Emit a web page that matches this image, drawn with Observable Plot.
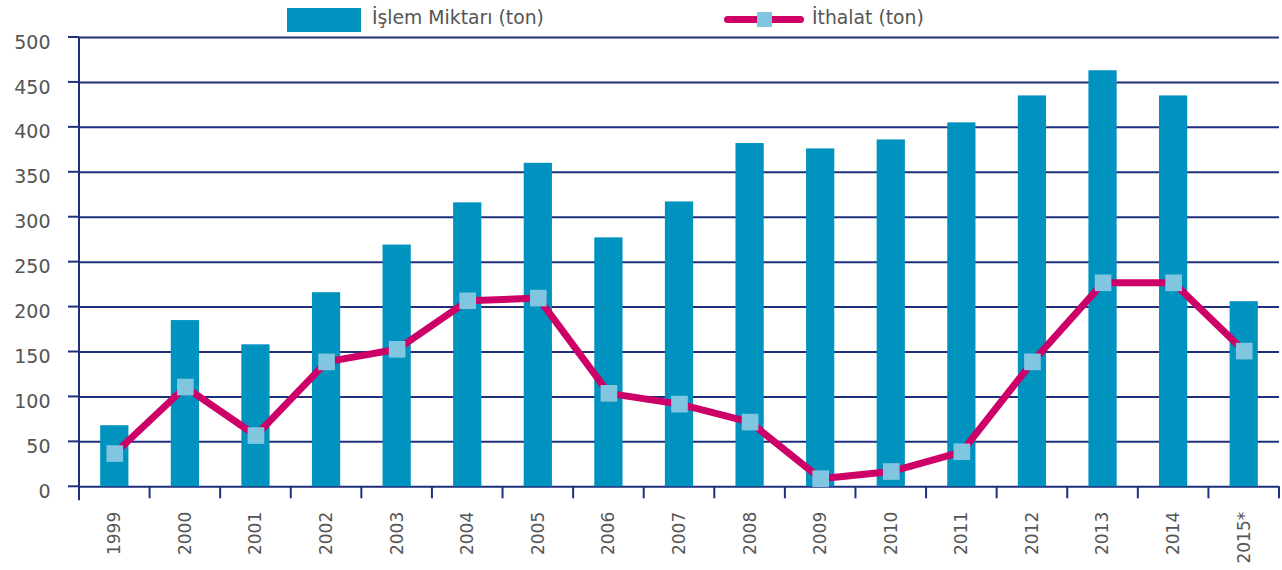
<!DOCTYPE html>
<html>
<head>
<meta charset="utf-8">
<script src="https://cdn.jsdelivr.net/npm/d3@7"></script>
<script src="https://cdn.jsdelivr.net/npm/@observablehq/plot@0.6"></script>
<style>
  html, body { margin: 0; padding: 0; background: #fff; }
  #wrap { width: 1282px; height: 570px; position: relative; font-family: "DejaVu Sans", sans-serif; }
  #legend { position: relative; height: 35px; width: 1282px; }
  #legend div { position: absolute; }
  .ltext { font-size: 18.8px; color: #555; line-height: 22px; white-space: nowrap; }
</style>
</head>
<body>
<div id="wrap">
  <div id="legend">
    <div style="left:287px; top:8px; width:74px; height:24px; background:#0093bf;"></div>
    <div class="ltext" style="left:372px; top:7px;">İşlem Miktarı (ton)</div>
    <div style="left:724px; top:16px; width:80px; height:7px; border-radius:4px; background:#cc0066;"></div>
    <div style="left:757px; top:12px; width:15px; height:15px; background:#80c6e0;"></div>
    <div class="ltext" style="left:812px; top:7px;">İthalat (ton)</div>
  </div>
  <div id="chart"></div>
</div>
<script>
const years = ["1999","2000","2001","2002","2003","2004","2005","2006","2007","2008","2009","2010","2011","2012","2013","2014","2015*"];
const islemMiktari = [68, 185, 158, 216, 269, 316, 360, 277, 317, 382, 376, 386, 405, 435, 463, 435, 206];
const ithalat = [37, 111, 57, 139, 153, 207, 210, 104, 92, 72, 9, 17, 39, 139, 227, 227, 151];
const yTicks = [0, 50, 100, 150, 200, 250, 300, 350, 400, 450, 500];

const gridColor = "#1f2f7c";
const data = years.map((y, i) => ({year: y, islem: islemMiktari[i], ithalat: ithalat[i]}));

function axisDecor(index, scales, values, dimensions) {
  const x = scales.x, y = scales.y;
  const g = d3.create("svg:g").attr("stroke", gridColor).attr("stroke-width", 2).attr("fill", "none");
  const step = x(years[1]) - x(years[0]);
  const bw = typeof x.bandwidth === "function" ? x.bandwidth() : step * 0.4;
  const off = (step - bw) / 2;
  const y0 = y(0);
  const left = x(years[0]) - off;
  for (const t of yTicks) {
    g.append("line").attr("x1", left - 11).attr("x2", left).attr("y1", y(t)).attr("y2", y(t));
  }
  g.append("line").attr("x1", left).attr("x2", left).attr("y1", y(500)).attr("y2", y0 + 14);
  const bounds = years.map(d => x(d) - off).concat([x(years[years.length - 1]) + bw + off]);
  bounds.forEach((b, i) => {
    if (i === 0) return;
    g.append("line").attr("x1", b).attr("x2", b).attr("y1", y0).attr("y2", y0 + 12);
  });
  return g.node();
}

const chart = Plot.plot({
  width: 1282,
  height: 535,
  marginTop: 2,
  marginBottom: 83.7,
  marginLeft: 79,
  marginRight: 3,
  x: {domain: years, paddingInner: 0.6, paddingOuter: 0.3, round: false, axis: null},
  y: {domain: [0, 500], axis: null},
  style: {fontFamily: "DejaVu Sans, sans-serif", background: "white", color: "#555", overflow: "visible"},
  marks: [
    Plot.ruleY(yTicks, {stroke: gridColor, strokeWidth: 2}),
    Plot.text(yTicks, {y: d => d, text: d => String(d), frameAnchor: "left", textAnchor: "end", dx: -29, dy: 5, fontSize: 19, fill: "#555"}),
    Plot.barY(data, {x: "year", y: "islem", fill: "#0093bf"}),
    axisDecor,
    Plot.axisX({tickRotate: -90, tickSize: 0, tickPadding: 25, fontSize: 17, fill: "#555", label: null}),
    Plot.line(data, {x: "year", y: "ithalat", stroke: "#cc0066", strokeWidth: 7, strokeLinejoin: "round"}),
    Plot.dot(data, {x: "year", y: "ithalat", symbol: "square", r: 9.4, fill: "#80c6e0", stroke: "none"})
  ]
});
document.getElementById("chart").appendChild(chart);
</script>
</body>
</html>
